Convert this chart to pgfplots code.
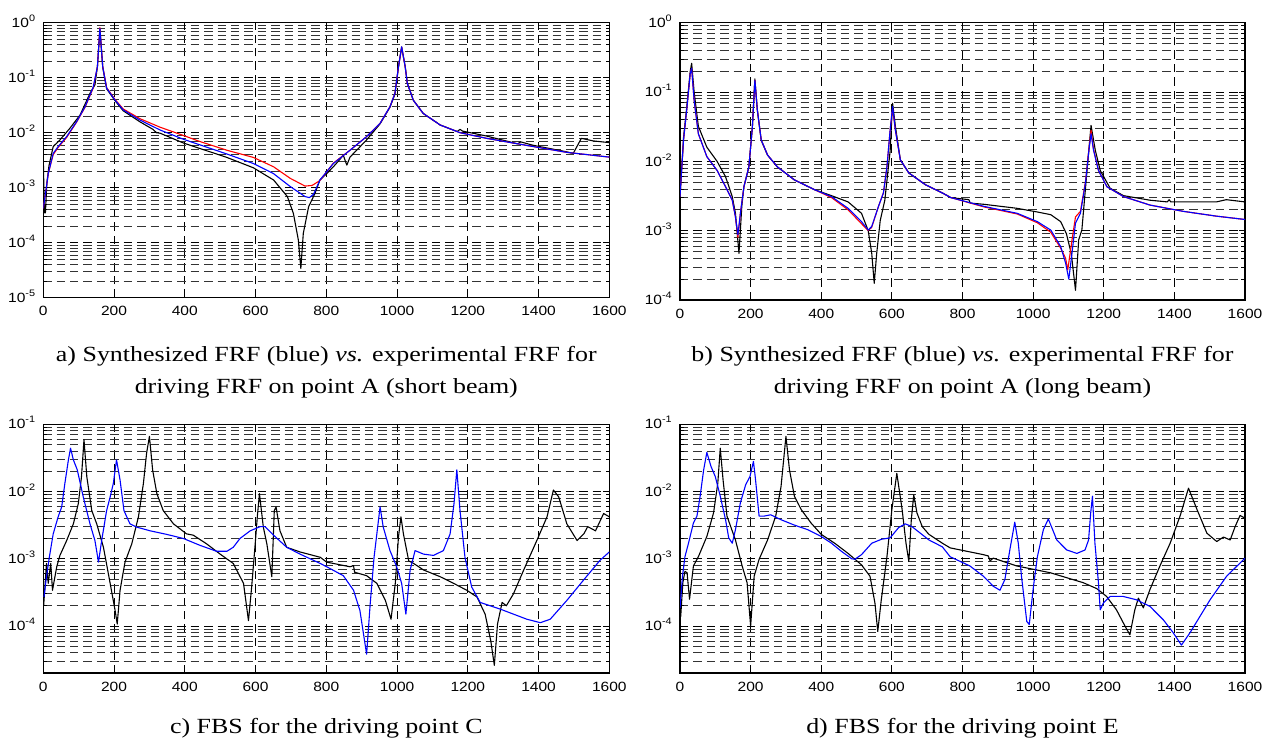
\documentclass[border=0pt]{standalone}
\usepackage{fontspec}
\setmainfont{Liberation Serif}
\newfontfamily\arial{Liberation Sans}
\usepackage{graphicx}
\usepackage{pgfplots}
\pgfplotsset{compat=1.18}

% the reference is stretched sideways a little
\newcommand\hs[1]{\scalebox{1.2}[1]{#1}}
\newcommand\ts[1]{\scalebox{1.16}[1]{#1}}
\newcommand\ex[1]{\ts{10\textsuperscript{#1}}}

\pgfplotsset{
  frf/.style={
    scale only axis, anchor=south west,
    xmin=0, xmax=1600,
    xtick={0,200,400,600,800,1000,1200,1400,1600},
    xticklabels={\ts{0},\ts{200},\ts{400},\ts{600},\ts{800},\ts{1000},\ts{1200},\ts{1400},\ts{1600}},
    ticklabel style={font=\arial\fontsize{6.7}{7}\selectfont},
    xticklabel style={anchor=base, yshift=-9.1pt},
    yticklabel style={anchor=base east, yshift=-2.4pt},
    tick align=inside, major tick length=3pt, minor tick length=1.8pt,
    tick style={black, line width=0.4pt},
    axis line style={black, line width=0.6pt},
    xmajorgrids, ymajorgrids, yminorgrids,
    major grid style={black, line width=0.4pt, dash pattern=on 4.2pt off 2.5pt},
    minor grid style={black!80, line width=0.4pt, dash pattern=on 4.2pt off 2.5pt},
    no markers,
    every axis plot/.append style={line width=0.55pt, line join=round},
  },
  topA/.style={ymin=1e-5, ymax=1,
    ytick={1e-5,1e-4,1e-3,1e-2,1e-1,1},
    yticklabels={\ex{-5},\ex{-4},\ex{-3},\ex{-2},\ex{-1},\ex{0}},
    minor ytick={2e-5,3e-5,4e-5,5e-5,6e-5,7e-5,8e-5,9e-5,
      2e-4,3e-4,4e-4,5e-4,6e-4,7e-4,8e-4,9e-4,
      2e-3,3e-3,4e-3,5e-3,6e-3,7e-3,8e-3,9e-3,
      2e-2,3e-2,4e-2,5e-2,6e-2,7e-2,8e-2,9e-2,
      0.2,0.3,0.4,0.5,0.6,0.7,0.8,0.9}},
  topB/.style={ymin=1e-4, ymax=1,
    ytick={1e-4,1e-3,1e-2,1e-1,1},
    yticklabels={\ex{-4},\ex{-3},\ex{-2},\ex{-1},\ex{0}},
    minor ytick={2e-4,3e-4,4e-4,5e-4,6e-4,7e-4,8e-4,9e-4,
      2e-3,3e-3,4e-3,5e-3,6e-3,7e-3,8e-3,9e-3,
      2e-2,3e-2,4e-2,5e-2,6e-2,7e-2,8e-2,9e-2,
      0.2,0.3,0.4,0.5,0.6,0.7,0.8,0.9}},
  bot/.style={ymin=2e-5, ymax=1e-1,
    ytick={1e-4,1e-3,1e-2,1e-1},
    yticklabels={\ex{-4},\ex{-3},\ex{-2},\ex{-1}},
    minor ytick={3e-5,4e-5,5e-5,6e-5,7e-5,8e-5,9e-5,
      2e-4,3e-4,4e-4,5e-4,6e-4,7e-4,8e-4,9e-4,
      2e-3,3e-3,4e-3,5e-3,6e-3,7e-3,8e-3,9e-3,
      2e-2,3e-2,4e-2,5e-2,6e-2,7e-2,8e-2,9e-2}},
}

\begin{document}
\begin{tikzpicture}
\path (0,0) rectangle (635pt,370pt);

% ---------- a) short beam, point A
\begin{axis}[ymode=log, frf, topA, at={(21.65pt,221.15pt)}, width=283pt, height=137.5pt]
\addplot[black] coordinates {
(0,3.5e-3)(3,3.5e-4)(6,3.5e-4)(10,1.2e-3)(16,2.5e-3)(28,5.6e-3)(47,7.4e-3)
(75,1.2e-2)(104,2.1e-2)(132,5.2e-2)(146,7.4e-2)(153,0.16)(160,0.75)(168,0.155)
(179,6.3e-2)(203,3.8e-2)(226,2.5e-2)(273,1.58e-2)(310,1.15e-2)(320,1.0e-2)(330,9.8e-3)
(396,6.5e-3)(519,3.55e-3)(594,2.3e-3)(651,1.38e-3)(690,6.9e-4)(707,3.4e-4)
(721,1.12e-4)(728,3.4e-5)(735,1.48e-4)(750,4.5e-4)(768,7.9e-4)(782,1.38e-3)
(801,1.8e-3)(820,2.4e-3)(839,3.3e-3)(848,3.9e-3)(858,2.57e-3)(867,3.6e-3)
(914,7.4e-3)(952,1.45e-2)(980,2.9e-2)(994,5.0e-2)(1004,0.155)(1013,0.36)(1023,0.16)
(1029,8.0e-2)(1046,3.9e-2)(1074,2.24e-2)(1122,1.38e-2)(1170,1.05e-2)(1178,1.15e-2)(1185,1.07e-2)
(1253,8.7e-3)(1340,6.3e-3)(1350,6.8e-3)(1385,5.9e-3)(1479,4.5e-3)(1498,4.2e-3)
(1521,7.9e-3)(1554,7.1e-3)(1600,6.6e-3)};
\addplot[red] coordinates {
(0,4.2e-4)(9,1.05e-3)(14,1.8e-3)(28,4.0e-3)(42,5.4e-3)(66,8.2e-3)(94,1.55e-2)
(118,2.9e-2)(141,6.5e-2)(153,0.158)(160,0.82)(168,0.16)(179,6.6e-2)(203,4.0e-2)
(226,2.7e-2)(273,1.8e-2)(330,1.26e-2)(396,8.9e-3)(443,6.9e-3)(519,4.8e-3)
(594,3.55e-3)(651,2.4e-3)(698,1.48e-3)(740,1.07e-3)(760,1.1e-3)(782,1.35e-3)
(820,2.8e-3)(867,4.8e-3)(914,8.5e-3)(952,1.48e-2)(980,2.97e-2)(994,5.2e-2)
(1004,0.158)(1013,0.36)(1023,0.158)(1029,7.9e-2)(1046,3.9e-2)(1074,2.24e-2)
(1122,1.38e-2)(1178,1.0e-2)(1253,7.9e-3)(1385,5.6e-3)(1479,4.4e-3)(1600,3.6e-3)};
\addplot[blue] coordinates {
(0,4.2e-4)(9,1.05e-3)(14,1.8e-3)(28,4.2e-3)(42,5.6e-3)(66,8.5e-3)(94,1.58e-2)
(118,2.97e-2)(141,6.7e-2)(153,0.158)(160,0.79)(168,0.158)(179,6.46e-2)(203,3.9e-2)
(226,2.6e-2)(273,1.7e-2)(330,1.12e-2)(396,7.6e-3)(443,6.0e-3)(519,4.1e-3)
(594,2.75e-3)(651,1.8e-3)(698,1.05e-3)(740,6.9e-4)(752,6.6e-4)(764,7.6e-4)
(782,1.38e-3)(820,2.75e-3)(867,4.8e-3)(914,8.5e-3)(952,1.48e-2)(980,2.97e-2)
(994,5.2e-2)(1004,0.158)(1013,0.366)(1023,0.158)(1029,7.9e-2)(1046,3.9e-2)
(1074,2.24e-2)(1122,1.38e-2)(1178,1.0e-2)(1253,7.9e-3)(1385,5.6e-3)(1479,4.4e-3)
(1600,3.6e-3)};
\end{axis}

% ---------- b) long beam, point A
\begin{axis}[ymode=log, frf, topB, at={(340pt,220pt)}, width=282.5pt, height=138.65pt]
\addplot[black] coordinates {
(0,3.1e-3)(10,2.2e-2)(19,6.0e-2)(29,0.2)(33,0.26)(40,0.1)(52,3.2e-2)(76,1.6e-2)
(105,1.0e-2)(129,6.0e-3)(148,3.1e-3)(157,1.78e-3)(167,4.7e-4)(175,2.24e-3)
(181,4.3e-3)(195,8.3e-3)(205,3.16e-2)(212,0.155)(219,5.5e-2)(230,2.0e-2)
(248,1.23e-2)(276,8.3e-3)(324,5.4e-3)(381,3.9e-3)(429,3.2e-3)(476,2.6e-3)
(514,1.78e-3)(533,1.0e-3)(543,4.7e-4)(550,1.74e-4)(557,4.7e-4)(567,1.4e-3)
(580,2.75e-3)(595,1.4e-2)(602,6.9e-2)(610,3.2e-2)(624,1.05e-2)(648,6.8e-3)
(695,4.6e-3)(743,3.5e-3)(767,3.0e-3)(818,2.8e-3)(822,2.5e-3)(861,2.4e-3)
(955,2.1e-3)(1012,1.86e-3)(1050,1.7e-3)(1078,1.35e-3)(1094,9.1e-4)(1108,4.7e-4)
(1120,1.38e-4)(1129,7.4e-4)(1138,1.02e-3)(1152,6.8e-3)(1164,3.3e-2)(1176,1.45e-2)
(1190,7.4e-3)(1218,4.1e-3)(1256,3.2e-3)(1331,2.75e-3)(1380,2.6e-3)(1385,2.8e-3)
(1390,2.6e-3)(1519,2.6e-3)(1547,2.8e-3)(1600,2.6e-3)};
\addplot[red] coordinates {
(0,3.1e-3)(10,2.04e-2)(19,5.5e-2)(29,0.186)(33,0.22)(40,7.6e-2)(52,2.5e-2)
(76,1.17e-2)(105,7.4e-3)(129,4.3e-3)(148,2.75e-3)(157,1.58e-3)(164,8.0e-4)
(171,1.78e-3)(181,4.3e-3)(195,8.3e-3)(205,3.16e-2)(212,0.148)(219,5.5e-2)
(230,2.04e-2)(248,1.23e-2)(276,8.3e-3)(324,5.4e-3)(381,3.9e-3)(429,3.0e-3)
(476,2.0e-3)(514,1.26e-3)(533,1.0e-3)(543,1.12e-3)(562,2.24e-3)(576,3.5e-3)
(586,8.3e-3)(595,2.8e-2)(602,5.8e-2)(610,2.8e-2)(624,1.05e-2)(648,6.8e-3)
(695,4.6e-3)(743,3.5e-3)(767,3.0e-3)(861,2.2e-3)(955,1.74e-3)(1012,1.3e-3)
(1050,9.5e-4)(1078,5.6e-4)(1092,4.0e-4)(1098,2.7e-4)(1111,7.9e-4)(1120,1.58e-3)
(1134,1.9e-3)(1148,5.0e-3)(1158,1.5e-2)(1164,2.8e-2)(1171,1.5e-2)(1185,7.4e-3)
(1209,4.3e-3)(1256,3.1e-3)(1331,2.34e-3)(1425,1.9e-3)(1519,1.62e-3)(1600,1.45e-3)};
\addplot[blue] coordinates {
(0,3.1e-3)(10,2.04e-2)(19,5.5e-2)(29,0.186)(33,0.22)(40,7.6e-2)(52,2.5e-2)
(76,1.17e-2)(105,7.4e-3)(129,4.3e-3)(148,2.75e-3)(157,1.58e-3)(164,8.7e-4)
(171,1.78e-3)(181,4.3e-3)(195,8.3e-3)(205,3.16e-2)(212,0.148)(219,5.5e-2)
(230,2.04e-2)(248,1.23e-2)(276,8.3e-3)(324,5.4e-3)(381,3.9e-3)(429,3.1e-3)
(476,2.1e-3)(514,1.35e-3)(533,1.02e-3)(543,1.15e-3)(562,2.24e-3)(576,3.5e-3)
(586,8.3e-3)(595,2.8e-2)(602,6.2e-2)(610,2.8e-2)(624,1.05e-2)(648,6.8e-3)
(695,4.6e-3)(743,3.5e-3)(767,3.0e-3)(861,2.24e-3)(955,1.78e-3)(1012,1.35e-3)
(1050,1.02e-3)(1078,5.9e-4)(1092,3.4e-4)(1101,2.0e-4)(1111,5.2e-4)(1120,1.29e-3)
(1134,1.78e-3)(1148,4.8e-3)(1158,1.45e-2)(1164,2.5e-2)(1171,1.45e-2)(1185,7.4e-3)
(1209,4.3e-3)(1256,3.1e-3)(1331,2.34e-3)(1425,1.9e-3)(1519,1.62e-3)(1600,1.45e-3)};
\end{axis}

% ---------- c) FBS, point C
\begin{axis}[ymode=log, frf, bot, at={(21.65pt,33.5pt)}, width=283pt, height=124.4pt]
\addplot[black] coordinates {
(1,2.0e-4)(9,8.5e-4)(14,4.3e-4)(21,8.5e-4)(26,3.4e-4)(38,7.6e-4)(47,1.12e-3)
(66,1.86e-3)(85,3.3e-3)(99,6.6e-3)(108,1.66e-2)(115,5.9e-2)(123,1.66e-2)(137,5.2e-3)
(151,3.3e-3)(170,1.48e-3)(189,4.3e-4)(203,1.7e-4)(209,1.07e-4)(217,3.4e-4)
(231,8.9e-4)(250,1.66e-3)(269,4.2e-3)(283,1.32e-2)(292,3.7e-2)(300,6.6e-2)
(309,2.1e-2)(321,9.3e-3)(339,5.2e-3)(368,3.3e-3)(405,2.34e-3)(424,2.24e-3)
(462,1.66e-3)(500,1.17e-3)(537,8.5e-4)(566,4.3e-4)(580,1.2e-4)(589,3.8e-4)
(599,1.66e-3)(605,4.2e-3)(611,9.3e-3)(622,2.95e-3)(632,1.66e-3)(646,5.4e-4)
(653,5.2e-3)(658,5.9e-3)(669,2.6e-3)(688,1.48e-3)(726,1.26e-3)(783,1.05e-3)
(801,8.9e-4)(867,7.6e-4)(877,7.9e-4)(880,6.3e-4)(914,5.6e-4)(943,4.3e-4)
(967,2.4e-4)(983,1.26e-4)(995,4.3e-4)(1004,2.1e-3)(1011,4.2e-3)(1018,2.34e-3)
(1033,9.3e-4)(1047,8.5e-4)(1075,6.8e-4)(1122,5.4e-4)(1160,4.3e-4)(1197,3.4e-4)
(1226,2.7e-4)(1249,1.5e-4)(1265,6.0e-5)(1275,2.6e-5)(1284,1.07e-4)(1297,2.24e-4)
(1309,2.0e-4)(1329,3.0e-4)(1358,6.8e-4)(1395,1.86e-3)(1424,4.2e-3)(1442,1.05e-2)
(1457,8.3e-3)(1480,3.3e-3)(1509,1.86e-3)(1528,2.34e-3)(1539,3.0e-3)(1561,2.6e-3)
(1584,4.7e-3)(1600,4.2e-3)};
\addplot[blue] coordinates {
(2,2.7e-4)(9,5.4e-4)(17,1.05e-3)(28,2.34e-3)(42,4.2e-3)(52,5.9e-3)(61,1.32e-2)
(71,2.95e-2)(77,4.4e-2)(85,2.95e-2)(96,2.1e-2)(113,8.3e-3)(132,3.3e-3)(146,1.86e-3)
(156,8.9e-4)(165,1.86e-3)(179,5.2e-3)(189,8.3e-3)(198,1.32e-2)(207,2.95e-2)
(217,1.48e-2)(228,5.2e-3)(245,3.3e-3)(264,2.95e-3)(302,2.6e-3)(349,2.3e-3)
(396,2.0e-3)(443,1.58e-3)(490,1.29e-3)(519,1.29e-3)(537,1.48e-3)(556,2.0e-3)
(585,2.6e-3)(613,3.0e-3)(627,3.0e-3)(651,2.24e-3)(688,1.48e-3)(726,1.17e-3)
(783,8.5e-4)(801,7.6e-4)(848,5.6e-4)(877,3.4e-4)(895,1.7e-4)(914,3.8e-5)
(924,2.1e-4)(935,1.05e-3)(952,5.9e-3)(961,2.95e-3)(980,1.32e-3)(999,7.6e-4)
(1013,4.3e-4)(1025,1.5e-4)(1037,6.8e-4)(1051,1.32e-3)(1075,1.17e-3)(1103,1.12e-3)
(1131,1.32e-3)(1150,2.34e-3)(1161,6.6e-3)(1169,2.1e-2)(1178,5.2e-3)(1192,1.05e-3)
(1211,3.8e-4)(1235,2.24e-4)(1292,1.78e-4)(1367,1.26e-4)(1405,1.12e-4)(1433,1.26e-4)
(1480,2.4e-4)(1527,4.8e-4)(1574,9.5e-4)(1600,1.26e-3)};
\end{axis}

% ---------- d) FBS, point E
\begin{axis}[ymode=log, frf, bot, at={(340pt,33.5pt)}, width=282.5pt, height=124.4pt]
\addplot[black] coordinates {
(2,1.38e-4)(8,4.4e-4)(14,6.5e-4)(20,6.2e-4)(27,2.5e-4)(38,7.8e-4)(52,1.07e-3)
(76,2.14e-3)(95,4.8e-3)(107,1.32e-2)(114,4.4e-2)(122,1.48e-2)(133,4.3e-3)
(157,1.9e-3)(176,7.8e-4)(190,4.4e-4)(200,1.0e-4)(210,5.5e-4)(224,9.8e-4)
(248,1.9e-3)(271,4.3e-3)(286,1.17e-2)(300,6.6e-2)(310,2.1e-2)(324,8.5e-3)
(343,5.4e-3)(371,3.4e-3)(400,2.3e-3)(438,1.7e-3)(476,1.2e-3)(514,8.1e-4)
(538,5.5e-4)(552,2.2e-4)(560,8.3e-5)(570,2.45e-4)(586,1.07e-3)(600,5.4e-3)
(614,1.86e-2)(629,5.4e-3)(640,1.7e-3)(648,9.1e-4)(655,3.8e-3)(662,8.9e-3)
(671,4.8e-3)(686,3.0e-3)(705,2.3e-3)(743,1.7e-3)(765,1.45e-3)(859,1.15e-3)
(873,1.1e-3)(878,9.3e-4)(887,1.02e-3)(954,7.8e-4)(1048,6.2e-4)(1142,4.4e-4)
(1180,3.6e-4)(1208,2.75e-4)(1236,1.74e-4)(1260,1.0e-4)(1274,7.4e-5)(1288,1.74e-4)
(1298,2.6e-4)(1312,1.86e-4)(1331,3.5e-4)(1359,7.8e-4)(1388,1.7e-3)(1416,4.3e-3)
(1440,1.12e-2)(1464,5.4e-3)(1492,2.4e-3)(1520,1.8e-3)(1539,2.1e-3)(1558,1.9e-3)
(1572,3.0e-3)(1586,4.4e-3)(1600,4.0e-3)};
\addplot[blue] coordinates {
(0,1.86e-4)(7,5.5e-4)(14,1.07e-3)(24,1.7e-3)(38,3.4e-3)(48,4.3e-3)(57,8.5e-3)
(67,2.1e-2)(76,3.8e-2)(88,2.34e-2)(100,1.66e-2)(114,8.5e-3)(129,3.8e-3)(138,2.04e-3)
(148,1.7e-3)(157,2.7e-3)(171,6.8e-3)(186,1.26e-2)(198,1.66e-2)(208,2.8e-2)
(214,1.48e-2)(224,4.3e-3)(238,4.3e-3)(257,4.5e-3)(286,3.8e-3)(324,3.16e-3)
(362,2.7e-3)(400,2.14e-3)(429,1.7e-3)(457,1.29e-3)(486,1.0e-3)(495,9.8e-4)
(514,1.15e-3)(543,1.7e-3)(571,1.95e-3)(595,2.04e-3)(619,2.9e-3)(638,3.3e-3)
(657,3.0e-3)(705,1.9e-3)(743,1.5e-3)(765,1.07e-3)(821,7.8e-4)(859,5.5e-4)
(887,3.9e-4)(906,3.4e-4)(920,4.9e-4)(934,1.35e-3)(948,3.5e-3)(958,1.7e-3)
(967,5.5e-4)(982,1.17e-4)(989,1.05e-4)(1001,3.9e-4)(1012,1.07e-3)(1029,2.7e-3)
(1043,3.9e-3)(1067,1.9e-3)(1095,1.35e-3)(1124,1.2e-3)(1147,1.35e-3)(1157,1.9e-3)
(1163,4.8e-3)(1168,8.5e-3)(1175,1.7e-3)(1185,4.4e-4)(1190,1.74e-4)(1199,2.2e-4)
(1218,2.75e-4)(1255,2.75e-4)(1293,2.45e-4)(1331,1.95e-4)(1369,1.23e-4)(1397,7.9e-5)
(1420,5.2e-5)(1444,7.9e-5)(1501,2.45e-4)(1548,5.5e-4)(1600,1.02e-3)};
\end{axis}

% ---------- captions
\begin{scope}[every node/.style={anchor=base, inner sep=0pt, font=\fontsize{10.8}{13}\selectfont}]
\node at (163.15pt,189pt) {\hs{a) Synthesized FRF (blue) \textit{vs.} experimental FRF for}};
\node at (163.15pt,173pt) {\hs{driving FRF on point A (short beam)}};
\node at (481.25pt,189pt) {\hs{b) Synthesized FRF (blue) \textit{vs.} experimental FRF for}};
\node at (481.25pt,173pt) {\hs{driving FRF on point A (long beam)}};
\node at (163.15pt,3.4pt) {\hs{c) FBS for the driving point C}};
\node at (481.25pt,3.4pt) {\hs{d) FBS for the driving point E}};
\end{scope}
\end{tikzpicture}
\end{document}
